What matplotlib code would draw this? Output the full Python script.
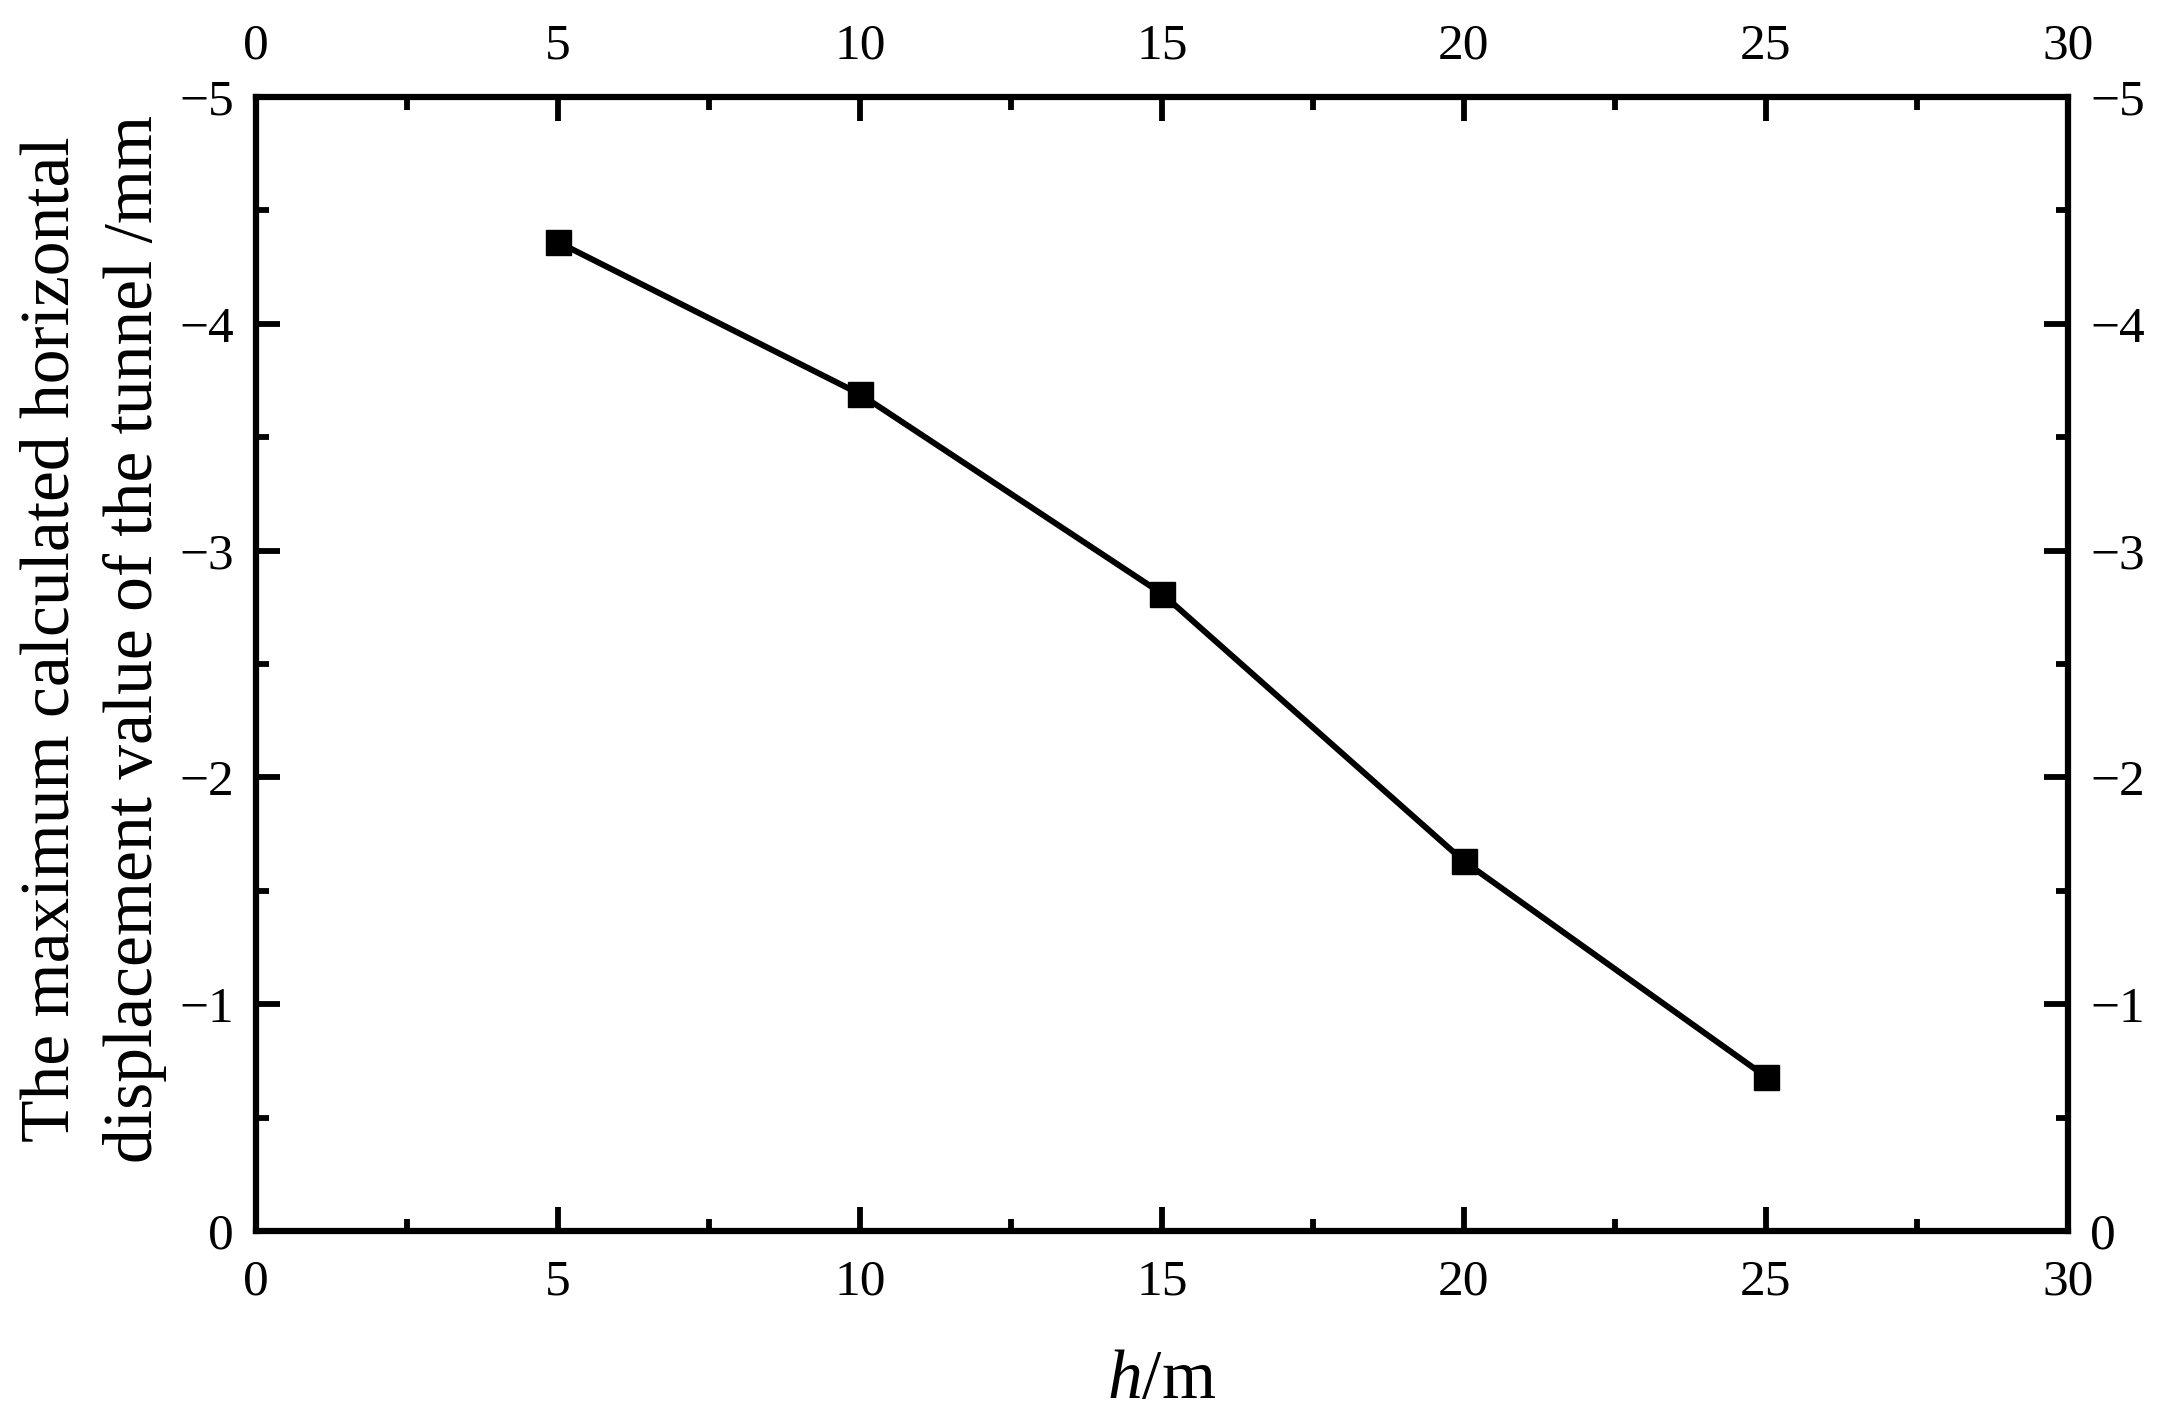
import matplotlib
matplotlib.use("Agg")
import matplotlib.pyplot as plt
from matplotlib.ticker import MultipleLocator

plt.rcParams['font.family'] = ['Liberation Serif', 'DejaVu Serif']
plt.rcParams['mathtext.fontset'] = 'custom'
plt.rcParams['mathtext.rm'] = 'Liberation Serif'
plt.rcParams['mathtext.it'] = 'Liberation Serif:italic'

h_values = [5, 10, 15, 20, 25]
displacement = [-4.36, -3.69, -2.81, -1.63, -0.68]
x_label = r"$h$/m"
y_label = "The maximum calculated horizontal\ndisplacement value of the tunnel /mm"

fig = plt.figure(figsize=(21.73, 14.17), dpi=100)
ax = fig.add_axes([256/2173, 1-1231/1417, (2068-256)/2173, (1231-97)/1417])

ax.plot(h_values, displacement, color='black', lw=4.3, marker='s', markersize=18,
        markerfacecolor='black', markeredgecolor='black')

ax.set_xlim(0, 30)
ax.set_ylim(0, -5)
ax.xaxis.set_major_locator(MultipleLocator(5))
ax.xaxis.set_minor_locator(MultipleLocator(2.5))
ax.yaxis.set_major_locator(MultipleLocator(1))
ax.yaxis.set_minor_locator(MultipleLocator(0.5))

for s in ax.spines.values():
    s.set_linewidth(4.5)

ax.tick_params(which='both', direction='in', top=True, right=True,
               labeltop=True, labelright=True, labelsize=37, width=4.2)
ax.tick_params(axis='x', which='both', pad=20)
ax.tick_params(axis='y', which='both', pad=16)
ax.tick_params(which='major', length=17)
ax.tick_params(which='minor', length=9)

ax.set_xlabel(x_label, fontsize=50, labelpad=32)
ax.set_ylabel(y_label, fontsize=50, linespacing=1.4)
ax.yaxis.set_label_coords(-0.049, 0.522)

fig.savefig("out.png", dpi=100)
